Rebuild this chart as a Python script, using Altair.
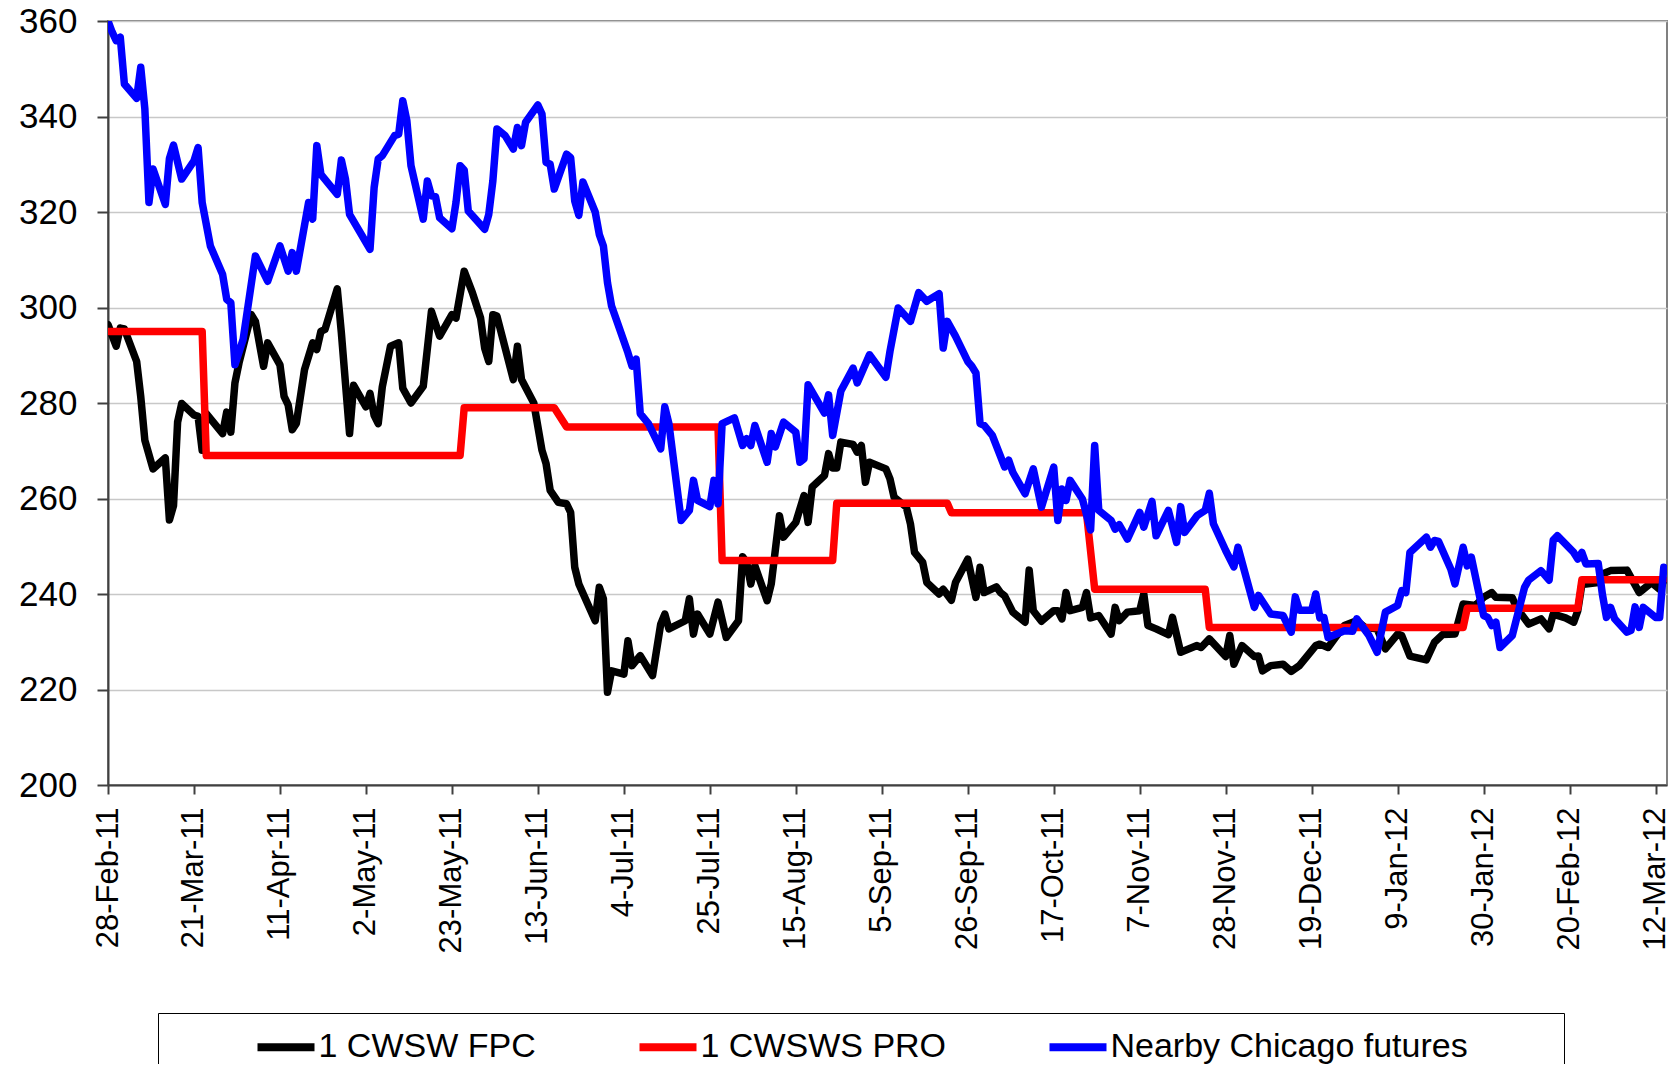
import altair as alt
import pandas as pd

BASE = "2011-02-28"
series_names = ["1 CWSW FPC", "1 CWSWS PRO", "Nearby Chicago futures"]
series_colors = ["#000000", "#ff0000", "#0000ff"]

# ---- 1 CWSW FPC (days after 28-Feb-11, value) ----
fpc_days = [0, 2, 3, 4, 7, 8, 9, 11, 14, 15, 16, 17, 18, 21, 22, 23, 24, 26, 28, 29,
            30, 31, 32, 35, 36, 38, 39, 42, 43, 44, 45, 46, 48, 50, 51, 52, 53, 56, 57, 59,
            60, 63, 64, 65, 66, 67, 69, 71, 72, 74, 77, 79, 81, 84, 85, 87, 89, 91, 92, 93,
            94, 95, 99, 100, 101, 104, 106, 107, 108, 110, 112, 113, 114, 115, 119, 120, 121, 122, 123, 126,
            127, 128, 130, 133, 135, 136, 137, 141, 142, 143, 144, 147, 149, 151, 154, 155, 156, 157, 158, 161,
            162, 164, 165, 168, 170, 171, 172, 175, 176, 177, 178, 179, 182, 183, 184, 185, 186, 190, 191, 192,
            195, 196, 197, 199, 200, 203, 204, 206, 207, 210, 212, 213, 214, 217, 218, 219, 221, 224, 225, 226,
            228, 231, 232, 233, 234, 235, 238, 239, 240, 242, 245, 246, 247, 249, 252, 253, 254, 256, 259, 260,
            262, 266, 267, 269, 273, 274, 275, 277, 280, 281, 282, 284, 287, 289, 291, 295, 296, 298, 301, 302,
            305, 307, 310, 312, 315, 316, 318, 322, 324, 326, 329, 331, 334, 336, 338, 339, 343, 344, 347, 350,
            352, 353, 356, 358, 359, 360, 364, 365, 367, 371, 374, 375, 377, 379, 380]
fpc_vals = [296.4, 291.9, 295.7, 295.5, 288.7, 281.3, 272.2, 266.2, 268.5, 255.5, 258.5, 276.0, 279.9, 277.5, 277.2, 270.1, 277.8, 275.7, 273.6, 278.1,
            273.9, 284.2, 288.4, 298.5, 297.1, 287.7, 292.6, 288.0, 281.4, 279.6, 274.4, 275.7, 287.0, 292.6, 291.2, 295.0, 295.4, 303.9, 294.7, 273.6,
            283.7, 279.2, 282.0, 277.4, 275.7, 283.4, 291.9, 292.6, 283.1, 280.0, 283.5, 299.2, 294.0, 298.5, 297.8, 307.6, 303.1, 297.8, 291.5, 288.7,
            298.5, 298.2, 284.9, 291.9, 284.9, 280.0, 270.1, 267.3, 261.7, 259.2, 258.9, 257.1, 245.6, 242.1, 234.4, 241.4, 239.0, 219.4, 223.9, 223.2,
            230.2, 225.0, 227.1, 222.9, 233.7, 235.8, 232.7, 234.4, 239.0, 231.6, 235.8, 231.6, 238.3, 230.9, 234.4, 247.8, 246.6, 242.1, 245.9, 238.6,
            242.1, 256.4, 251.9, 255.0, 260.6, 255.0, 262.4, 264.8, 269.4, 266.4, 266.4, 271.8, 271.3, 269.7, 271.1, 263.4, 267.6, 266.2, 264.1, 260.3,
            258.2, 254.7, 248.7, 246.6, 242.4, 240.0, 241.0, 238.7, 242.4, 247.3, 239.3, 245.6, 240.3, 241.5, 240.3, 239.6, 236.2, 234.1, 245.0, 236.5,
            234.3, 236.5, 236.5, 234.8, 240.3, 236.5, 237.2, 240.3, 235.0, 235.5, 231.6, 237.2, 234.4, 236.2, 236.5, 240.0, 233.4, 232.7, 231.5, 235.1,
            227.8, 229.2, 228.8, 230.6, 226.9, 231.3, 225.3, 229.2, 226.9, 227.0, 223.9, 225.0, 225.3, 223.8, 225.0, 229.2, 229.5, 228.8, 232.3, 233.4,
            234.4, 233.0, 232.7, 228.5, 231.6, 231.3, 227.0, 226.2, 229.9, 231.5, 231.6, 237.9, 237.6, 239.3, 240.3, 239.3, 239.2, 237.2, 233.7, 234.8,
            232.7, 235.8, 235.0, 234.1, 236.5, 242.0, 242.4, 244.2, 244.9, 245.0, 240.3, 241.0, 242.4, 241.0, 242.8]

# ---- 1 CWSWS PRO (step series) ----
pro_days = [0, 23, 24, 86, 87, 109, 112, 149, 150, 177, 178, 205, 206, 239, 241, 268, 269, 331, 332, 359, 360, 380]
pro_vals = [295, 295, 269, 269, 279, 279, 275, 275, 247, 247, 259, 259, 257, 257, 241, 241, 233, 233, 237, 237, 243, 243]

# ---- Nearby Chicago futures ----
chi_days = [0, 1, 2, 3, 4, 7, 8, 9, 10, 11, 14, 15, 16, 18, 21, 22, 23, 25, 28, 29,
            30, 31, 33, 36, 39, 42, 44, 45, 46, 49, 50, 51, 52, 56, 57, 58, 59, 64, 65, 66,
            67, 70, 71, 72, 73, 74, 77, 78, 79, 80, 81, 84, 85, 86, 87, 88, 92, 93, 94, 95,
            97, 99, 100, 101, 102, 105, 106, 107, 108, 109, 112, 113, 114, 115, 116, 119, 120, 121, 122, 123,
            127, 128, 129, 130, 132, 135, 136, 137, 140, 142, 143, 144, 147, 148, 149, 150, 153, 155, 156, 157,
            158, 161, 162, 163, 165, 168, 169, 170, 171, 175, 176, 177, 179, 182, 183, 186, 190, 191, 193, 196,
            198, 200, 203, 204, 205, 207, 210, 211, 212, 213, 214, 216, 219, 220, 221, 224, 226, 228, 231, 232,
            233, 234, 235, 238, 240, 241, 242, 245, 246, 247, 249, 252, 253, 255, 256, 259, 261, 262, 263, 266,
            268, 269, 270, 273, 275, 276, 280, 281, 284, 287, 289, 290, 291, 294, 295, 296, 297, 298, 302, 304,
            305, 308, 310, 312, 315, 316, 317, 318, 322, 323, 324, 325, 328, 329, 331, 332, 333, 336, 337, 338,
            339, 340, 343, 346, 347, 350, 352, 353, 354, 358, 359, 360, 361, 364, 365, 366, 367, 368, 371, 372,
            373, 374, 375, 378, 379, 380]
chi_vals = [360.0, 357.7, 355.9, 356.6, 346.8, 343.8, 350.3, 341.6, 322.0, 329.0, 321.6, 331.2, 334.0, 326.9, 330.7, 333.5, 322.0, 312.9, 306.9, 301.7,
            301.0, 288.0, 293.3, 310.8, 305.5, 312.9, 307.6, 311.5, 307.6, 322.0, 318.5, 333.9, 327.9, 323.7, 330.9, 326.9, 319.5, 312.2, 325.1, 331.1,
            331.8, 336.0, 336.3, 343.3, 339.1, 329.7, 318.5, 326.5, 323.4, 323.2, 318.8, 316.5, 322.0, 329.7, 328.8, 320.2, 316.4, 319.5, 326.5, 337.4,
            336.0, 333.2, 337.7, 333.9, 338.8, 342.4, 340.5, 330.4, 330.0, 324.8, 332.1, 331.4, 322.3, 319.3, 326.3, 320.0, 315.3, 312.9, 305.2, 300.3,
            290.5, 287.7, 289.2, 277.8, 275.7, 270.4, 279.2, 275.7, 255.4, 257.5, 263.8, 259.6, 258.3, 263.8, 258.9, 275.7, 276.9, 271.1, 272.5, 271.1,
            275.3, 267.6, 273.6, 270.8, 276.0, 273.9, 267.6, 268.3, 283.8, 277.9, 281.7, 273.2, 282.5, 287.3, 284.2, 290.1, 285.4, 290.8, 299.9, 297.1,
            303.1, 301.3, 302.9, 291.5, 297.1, 294.0, 288.7, 287.7, 286.3, 275.7, 275.3, 273.2, 266.6, 268.0, 265.5, 261.0, 266.2, 258.2, 266.6, 255.4,
            262.0, 259.6, 263.8, 259.9, 253.4, 271.1, 257.5, 255.4, 253.6, 254.5, 251.5, 257.1, 254.0, 259.4, 252.2, 257.5, 250.8, 258.3, 252.9, 256.4,
            257.5, 261.1, 254.7, 249.1, 245.7, 249.8, 237.2, 239.7, 235.8, 235.5, 232.0, 239.4, 236.6, 236.6, 240.0, 235.0, 235.1, 230.9, 232.3, 232.2,
            234.8, 231.3, 227.8, 236.2, 237.6, 240.7, 240.3, 248.7, 251.9, 249.8, 251.2, 251.0, 245.2, 242.1, 249.8, 245.9, 247.7, 235.5, 235.1, 233.4,
            234.1, 228.8, 231.3, 241.4, 242.9, 244.9, 242.9, 251.3, 252.2, 248.7, 247.3, 248.7, 246.3, 246.4, 240.0, 235.1, 237.2, 234.8, 232.0, 232.4,
            237.3, 233.0, 237.2, 235.1, 235.1, 245.6]

# Axis ticks (every three weeks) and y grid values
x_tick_dates = [(2011, 2, 28), (2011, 3, 21), (2011, 4, 11), (2011, 5, 2), (2011, 5, 23), (2011, 6, 13),
                (2011, 7, 4), (2011, 7, 25), (2011, 8, 15), (2011, 9, 5), (2011, 9, 26), (2011, 10, 17),
                (2011, 11, 7), (2011, 11, 28), (2011, 12, 19), (2012, 1, 9), (2012, 1, 30), (2012, 2, 20),
                (2012, 3, 12)]
y_ticks = [200, 220, 240, 260, 280, 300, 320, 340, 360]

frames = []
for name, days, vals in [(series_names[0], fpc_days, fpc_vals),
                         (series_names[1], pro_days, pro_vals),
                         (series_names[2], chi_days, chi_vals)]:
    frames.append(pd.DataFrame({
        "date": pd.Timestamp(BASE) + pd.to_timedelta(days, unit="D"),
        "value": vals,
        "series": name,
        "order": range(len(days)),
    }))
df = pd.concat(frames, ignore_index=True)
df["date"] = df["date"].dt.strftime("%Y-%m-%dT%H:%M:%S")

FONT = "Liberation Sans"
last_label = series_names[2]
# trailing no-break spaces widen the legend frame on the right; the zero-width
# space at the end keeps them from being trimmed
pad_spaces = "\u00a0" * 10 + "\u200b"

chart = alt.Chart(df).mark_line(
    strokeWidth=7.5, strokeJoin="round", strokeCap="round", clip=True
).encode(
    x=alt.X(
        "date:T",
        scale=alt.Scale(
            domain=[alt.DateTime(year=2011, month=2, date=28),
                    alt.DateTime(year=2012, month=3, date=14, hours=19)],
            nice=False,
        ),
        axis=alt.Axis(
            values=[alt.DateTime(year=y, month=m, date=d) for (y, m, d) in x_tick_dates],
            format="%-d-%b-%y",
            labelAngle=270,
            labelAlign="right",
            labelBaseline="middle",
            labelFontSize=31,
            labelFont=FONT,
            labelColor="#000000",
            labelPadding=13,
            labelFlush=False,
            labelOverlap=False,
            tickSize=9,
            tickWidth=2,
            tickColor="#404040",
            domainColor="#404040",
            domainWidth=2,
            grid=False,
            title=None,
        ),
    ),
    y=alt.Y(
        "value:Q",
        scale=alt.Scale(domain=[200, 360], nice=False, zero=False),
        axis=alt.Axis(
            values=y_ticks,
            labelFontSize=35,
            labelFont=FONT,
            labelColor="#000000",
            labelPadding=20,
            labelFlush=False,
            labelOverlap=False,
            tickSize=11,
            tickWidth=2,
            tickColor="#404040",
            domainColor="#404040",
            domainWidth=2,
            grid=True,
            gridColor="#c8c8c8",
            gridWidth=1.5,
            title=None,
        ),
    ),
    color=alt.Color(
        "series:N",
        scale=alt.Scale(domain=series_names, range=series_colors),
        legend=alt.Legend(
            orient="none",
            legendX=50,
            legendY=992,
            direction="horizontal",
            title="\u00a0",
            titleOrient="left",
            titlePadding=94,
            titleFontSize=34,
            labelFont=FONT,
            labelFontSize=34,
            labelColor="#000000",
            labelOffset=0,
            labelLimit=0,
            labelExpr=f"datum.label == '{last_label}' ? datum.label + '{pad_spaces}' : datum.label",
            columnPadding=87,
            symbolType="stroke",
            symbolSize=3249,
            symbolStrokeWidth=8,
            strokeColor="#000000",
            padding=1.5,
        ),
    ),
    order="order:Q",
).properties(
    width=1559,
    height=764,
    padding={"left": 100, "top": 13, "right": 5, "bottom": 279},
    autosize="none",
).configure_view(
    stroke="#808080",
    strokeWidth=2,
)

chart.save("out.html", embed_options={"renderer": "svg", "actions": False})
